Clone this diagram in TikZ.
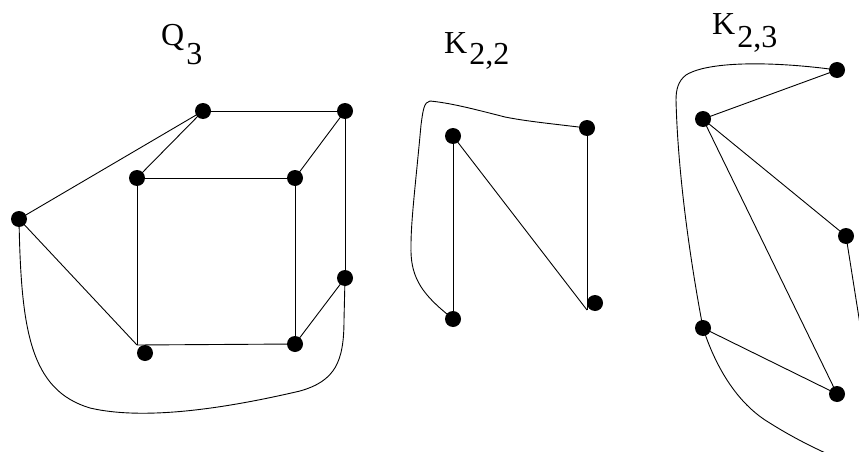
\documentclass[tikz,border=0pt]{standalone}
\usepackage{fontspec}
\setmainfont{Liberation Serif}
\begin{document}
\begin{tikzpicture}[x=1pt,y=-1pt,
  vtx/.style={circle,fill=black,inner sep=0pt,minimum size=16pt},
  edge/.style={draw=black,line width=0.9pt},
  lbl/.style={inner sep=0pt,anchor=base west,font=\fontsize{32}{38}\selectfont}]
\useasboundingbox (0,0) rectangle (859,452);
\begin{scope}
\clip (0,0) rectangle (859,452);
% labels
\node[lbl] (lq) at (161,46) {Q\hspace{2pt}\raisebox{-19pt}{3}};
\node[lbl] (lk22) at (444,53) {K\hspace{2pt}\raisebox{-12pt}{2,2}};
\node[lbl] (lk23) at (712,35) {K\hspace{2pt}\raisebox{-13pt}{2,3}};

% Q3 coordinates
\coordinate (A) at (203,111);
\coordinate (B) at (345,111);
\coordinate (C) at (137,178);
\coordinate (D) at (295,178);
\coordinate (E) at (19,219);
\coordinate (F) at (345,278);
\coordinate (G) at (295,344);
\coordinate (Hc) at (137,345);
\coordinate (H) at (145,353);

\draw[edge] (A) -- (B);
\draw[edge] (A) -- (C);
\draw[edge] (A) -- (E);
\draw[edge] (B) -- (D);
\draw[edge] (B) -- (F);
\draw[edge] (C) -- (D);
\draw[edge] (C) -- (Hc);
\draw[edge] (D) -- (G);
\draw[edge] (Hc) -- (G);
\draw[edge] (E) -- (Hc);
\draw[edge] (F) -- (G);
\draw[edge] (E) .. controls (21,330) and (30,390) .. (90,408)
  .. controls (150,422) and (240,405) .. (300,391)
  .. controls (335,381) and (344,362) .. (344,320) -- (F);

% K2,2 coordinates
\coordinate (P1) at (453,136);
\coordinate (P2) at (587,128);
\coordinate (P3) at (453,319);
\coordinate (P4) at (595,303);
\coordinate (Pj) at (587,310);
\draw[edge] (P1) -- (P3);
\draw[edge] (P1) -- (Pj);
\draw[edge] (P2) -- (Pj);
\draw[edge] (P2) .. controls (545,123) and (525,121) .. (505,117)
  .. controls (470,108) and (450,103) .. (430,101)
  .. controls (424,102) and (423,110) .. (421,125)
  .. controls (416,180) and (411,220) .. (411,245)
  .. controls (410,275) and (420,292) .. (447,314);

% K2,3 coordinates
\coordinate (R1) at (837,70);
\coordinate (R2) at (703,119);
\coordinate (R3) at (846,236);
\coordinate (R4) at (703,328);
\coordinate (R5) at (837,394);
\coordinate (Rout) at (862,337);
\draw[edge] (R2) -- (R1);
\draw[edge] (R2) -- (R3);
\draw[edge] (R2) -- (R5);
\draw[edge] (R4) -- (R5);
\draw[edge] (R3) -- (Rout);
\draw[edge] (R1) .. controls (780,62) and (710,60) .. (686,75)
  .. controls (678,81) and (676,90) .. (676,100)
  .. controls (678,180) and (692,270) .. (R4);
\draw[edge] (R4) .. controls (715,365) and (735,400) .. (765,420)
  .. controls (790,436) and (810,446) .. (832,456);

% dots
\foreach \n in {A,B,C,D,E,F,G,H,P1,P2,P3,P4,R1,R2,R3,R4,R5}
  \node[vtx] (v\n) at (\n) {};
\end{scope}
\end{tikzpicture}
\end{document}
